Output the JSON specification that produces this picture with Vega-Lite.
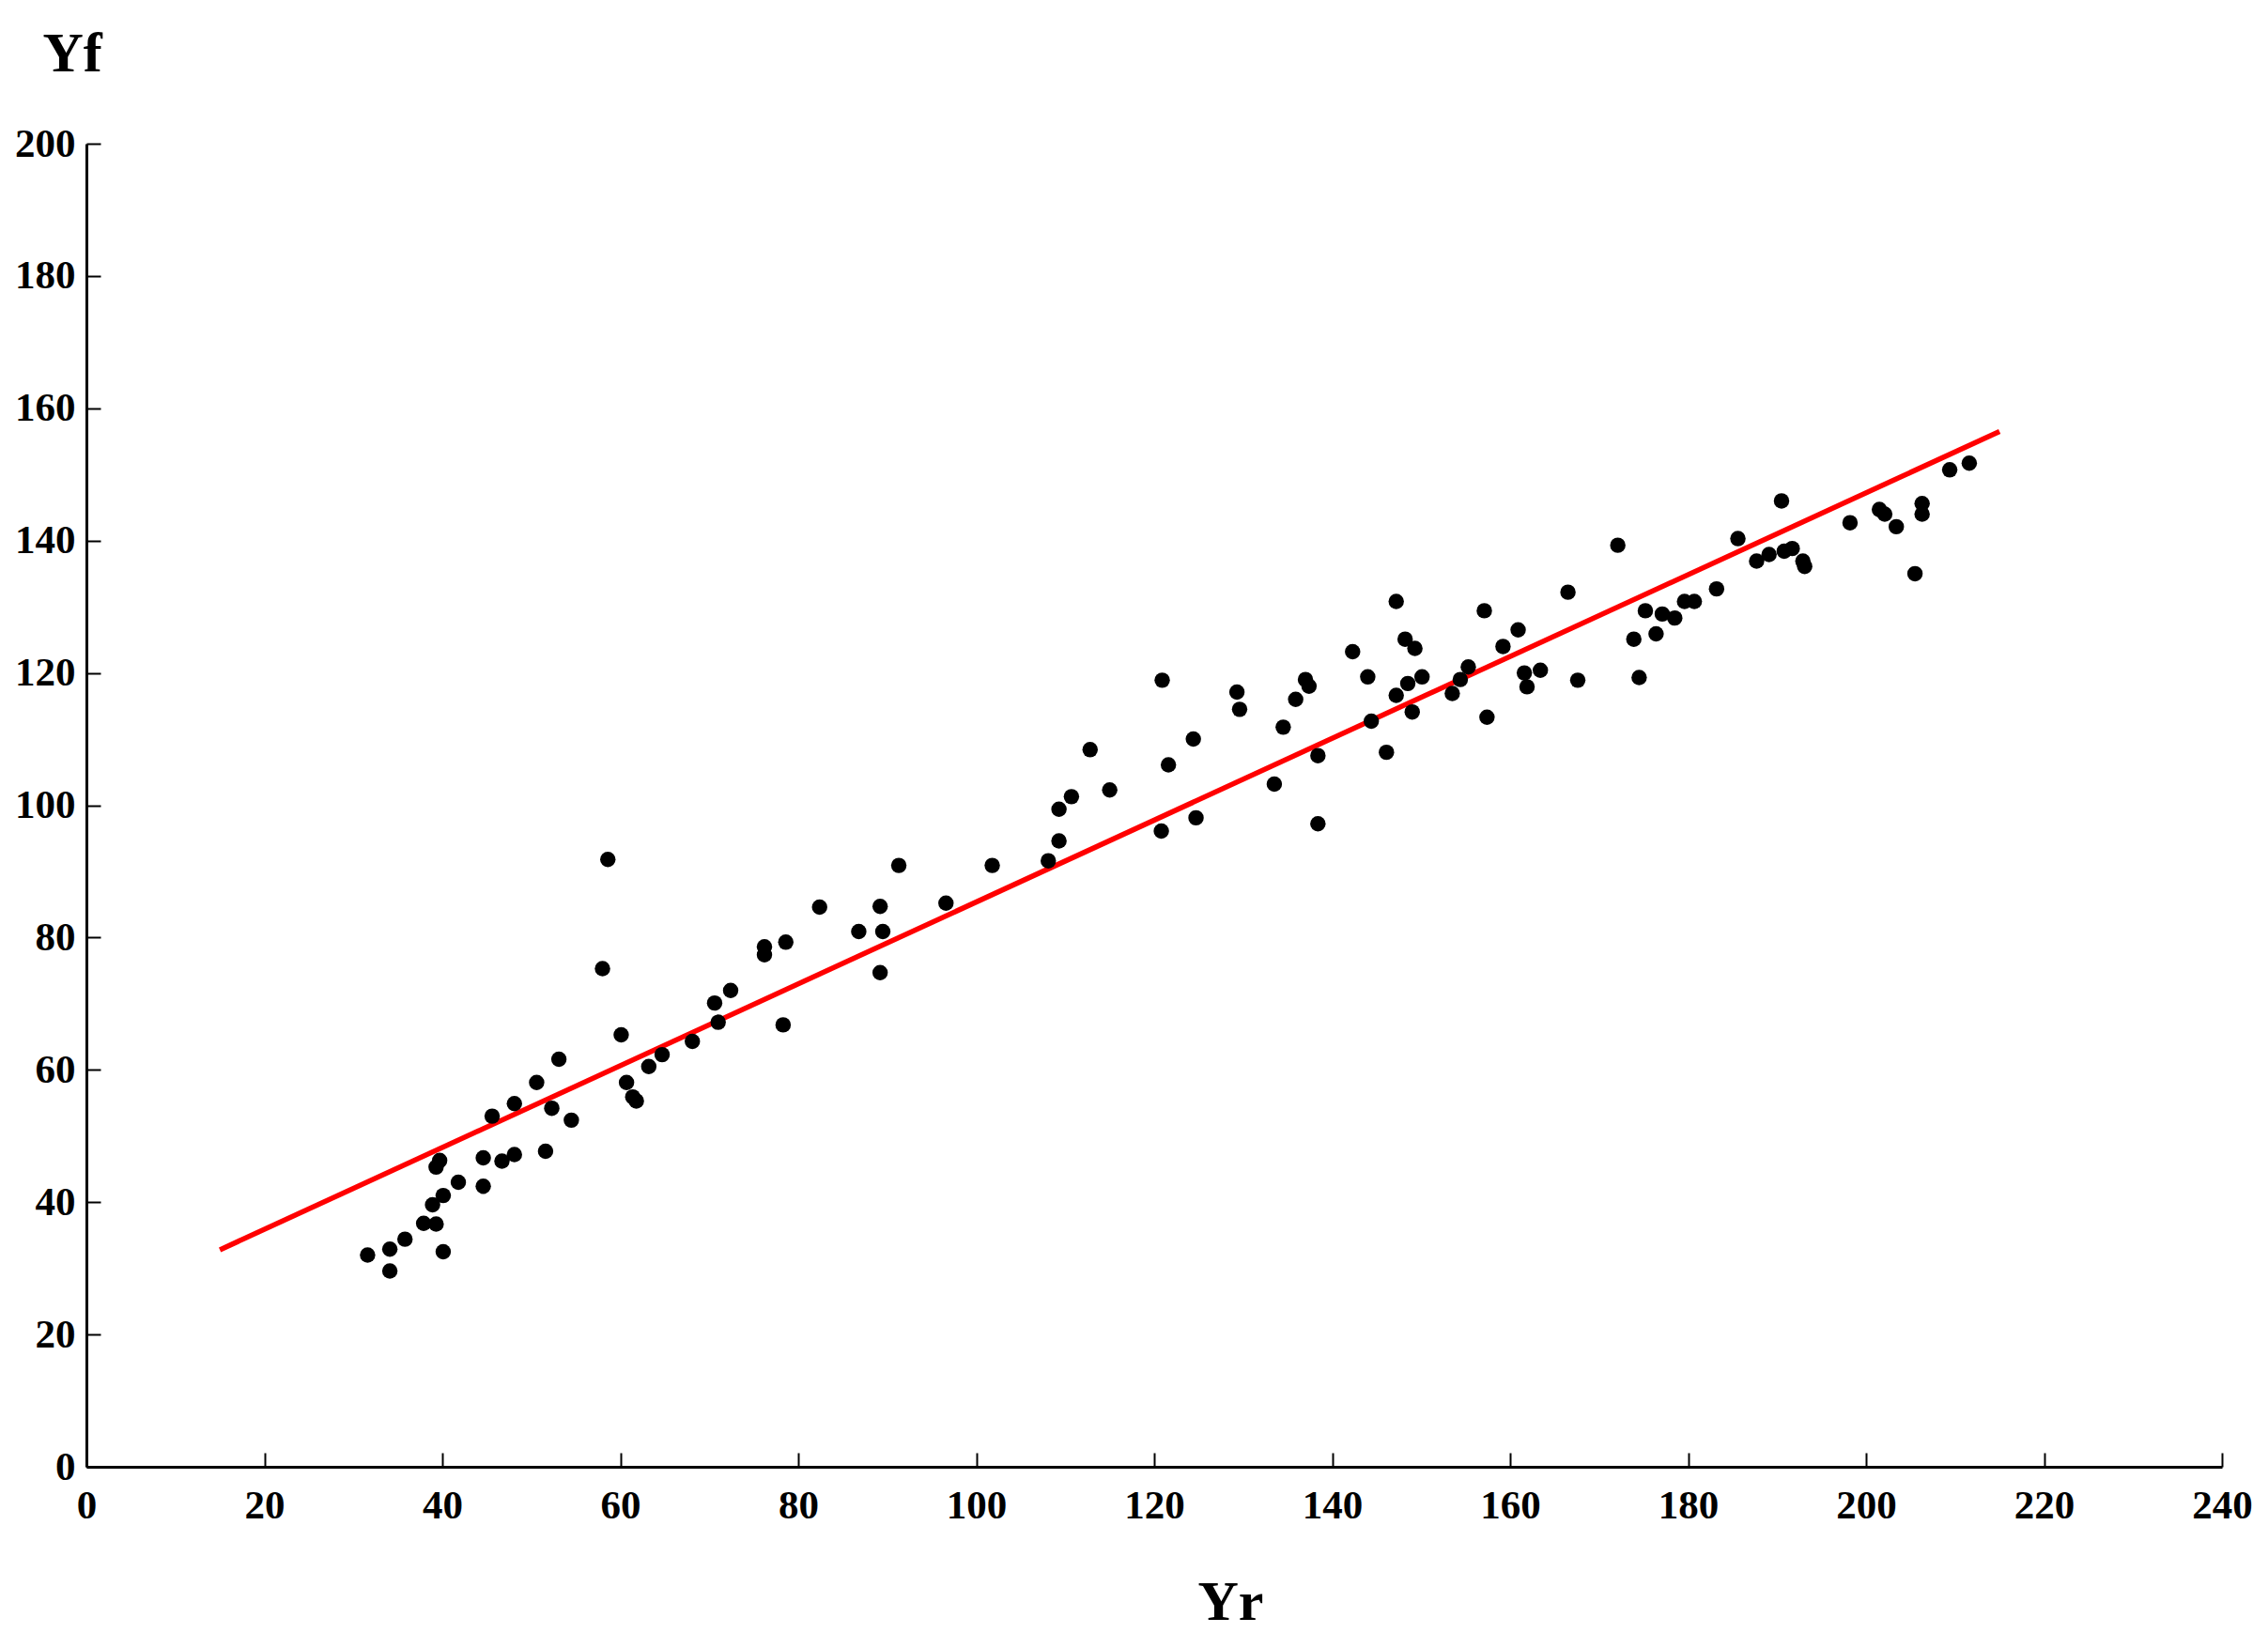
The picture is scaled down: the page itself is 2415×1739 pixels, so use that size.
{
  "$schema": "https://vega.github.io/schema/vega-lite/v6.json",
  "autosize": {"type": "none"},
  "width": 2274,
  "height": 1409,
  "padding": {"left": 92, "top": 153, "right": 49, "bottom": 177},
  "background": "white",
  "config": {"view": {"stroke": null}},
  "datasets": {
    "pts": [
      {"Yr": 31.6, "Yf": 32.0}, {"Yr": 34.1, "Yf": 32.9}, {"Yr": 34.1, "Yf": 29.6}, {"Yr": 35.8, "Yf": 34.4},
      {"Yr": 37.9, "Yf": 36.8}, {"Yr": 39.3, "Yf": 36.7}, {"Yr": 38.9, "Yf": 39.6}, {"Yr": 40.1, "Yf": 41.0},
      {"Yr": 39.3, "Yf": 45.3}, {"Yr": 39.7, "Yf": 46.3}, {"Yr": 40.1, "Yf": 32.5}, {"Yr": 41.8, "Yf": 43.0},
      {"Yr": 44.6, "Yf": 42.4}, {"Yr": 44.6, "Yf": 46.7}, {"Yr": 45.6, "Yf": 53.0}, {"Yr": 46.7, "Yf": 46.2},
      {"Yr": 48.1, "Yf": 47.2}, {"Yr": 48.1, "Yf": 54.9}, {"Yr": 50.6, "Yf": 58.1}, {"Yr": 51.6, "Yf": 47.7},
      {"Yr": 52.3, "Yf": 54.2}, {"Yr": 53.1, "Yf": 61.6}, {"Yr": 54.5, "Yf": 52.4}, {"Yr": 58.0, "Yf": 75.3},
      {"Yr": 58.6, "Yf": 91.8}, {"Yr": 60.1, "Yf": 65.3}, {"Yr": 60.7, "Yf": 58.1}, {"Yr": 61.4, "Yf": 55.9},
      {"Yr": 61.8, "Yf": 55.3}, {"Yr": 63.2, "Yf": 60.5}, {"Yr": 64.7, "Yf": 62.3}, {"Yr": 68.1, "Yf": 64.3},
      {"Yr": 70.6, "Yf": 70.1}, {"Yr": 71.0, "Yf": 67.2}, {"Yr": 72.4, "Yf": 72.0}, {"Yr": 76.2, "Yf": 78.6},
      {"Yr": 76.2, "Yf": 77.4}, {"Yr": 78.3, "Yf": 66.8}, {"Yr": 78.6, "Yf": 79.3}, {"Yr": 82.4, "Yf": 84.6},
      {"Yr": 86.8, "Yf": 80.9}, {"Yr": 89.2, "Yf": 84.7}, {"Yr": 89.5, "Yf": 80.9}, {"Yr": 89.2, "Yf": 74.7},
      {"Yr": 91.3, "Yf": 90.9}, {"Yr": 96.6, "Yf": 85.2}, {"Yr": 101.8, "Yf": 90.9}, {"Yr": 108.1, "Yf": 91.6},
      {"Yr": 109.3, "Yf": 94.6}, {"Yr": 109.3, "Yf": 99.4}, {"Yr": 110.7, "Yf": 101.3}, {"Yr": 112.8, "Yf": 108.4},
      {"Yr": 115.0, "Yf": 102.3}, {"Yr": 120.8, "Yf": 96.1}, {"Yr": 120.9, "Yf": 118.9}, {"Yr": 121.6, "Yf": 106.1},
      {"Yr": 124.4, "Yf": 110.0}, {"Yr": 124.7, "Yf": 98.1}, {"Yr": 129.3, "Yf": 117.1}, {"Yr": 129.6, "Yf": 114.5},
      {"Yr": 133.5, "Yf": 103.2}, {"Yr": 134.5, "Yf": 111.8}, {"Yr": 135.9, "Yf": 116.0}, {"Yr": 137.0, "Yf": 119.0},
      {"Yr": 137.4, "Yf": 118.0}, {"Yr": 138.4, "Yf": 107.5}, {"Yr": 138.4, "Yf": 97.2}, {"Yr": 142.3, "Yf": 123.2},
      {"Yr": 144.0, "Yf": 119.4}, {"Yr": 144.4, "Yf": 112.7}, {"Yr": 146.1, "Yf": 108.0}, {"Yr": 147.2, "Yf": 130.8},
      {"Yr": 148.2, "Yf": 125.1}, {"Yr": 147.2, "Yf": 116.6}, {"Yr": 148.5, "Yf": 118.4}, {"Yr": 149.3, "Yf": 123.7},
      {"Yr": 150.1, "Yf": 119.4}, {"Yr": 149.0, "Yf": 114.1}, {"Yr": 153.5, "Yf": 116.9}, {"Yr": 154.4, "Yf": 119.0},
      {"Yr": 155.3, "Yf": 120.9}, {"Yr": 157.1, "Yf": 129.4}, {"Yr": 157.4, "Yf": 113.3}, {"Yr": 159.2, "Yf": 124.0},
      {"Yr": 160.9, "Yf": 126.5}, {"Yr": 161.6, "Yf": 120.0}, {"Yr": 161.9, "Yf": 117.9}, {"Yr": 163.4, "Yf": 120.4},
      {"Yr": 166.5, "Yf": 132.2}, {"Yr": 167.6, "Yf": 118.9}, {"Yr": 172.1, "Yf": 139.3}, {"Yr": 173.9, "Yf": 125.1},
      {"Yr": 174.5, "Yf": 119.3}, {"Yr": 175.2, "Yf": 129.4}, {"Yr": 176.4, "Yf": 125.9}, {"Yr": 177.1, "Yf": 128.9},
      {"Yr": 178.5, "Yf": 128.3}, {"Yr": 179.6, "Yf": 130.8}, {"Yr": 180.7, "Yf": 130.8}, {"Yr": 183.2, "Yf": 132.7},
      {"Yr": 185.6, "Yf": 140.3}, {"Yr": 187.7, "Yf": 136.9}, {"Yr": 189.1, "Yf": 137.9}, {"Yr": 190.5, "Yf": 146.0},
      {"Yr": 190.8, "Yf": 138.4}, {"Yr": 191.7, "Yf": 138.8}, {"Yr": 192.9, "Yf": 136.9}, {"Yr": 193.1, "Yf": 136.1},
      {"Yr": 198.2, "Yf": 142.7}, {"Yr": 201.5, "Yf": 144.7}, {"Yr": 202.1, "Yf": 144.0}, {"Yr": 203.4, "Yf": 142.1},
      {"Yr": 206.3, "Yf": 145.6}, {"Yr": 206.3, "Yf": 144.0}, {"Yr": 205.5, "Yf": 135.0}, {"Yr": 209.4, "Yf": 150.7},
      {"Yr": 211.6, "Yf": 151.7}
    ],
    "fit": [
      {"Yr": 15, "Yf": 32.8},
      {"Yr": 215, "Yf": 156.5}
    ]
  },
  "layer": [
    {
      "data": {"name": "fit"},
      "mark": {"type": "line", "color": "#ff0000", "strokeWidth": 5.5},
      "encoding": {
        "x": {"field": "Yr", "type": "quantitative"},
        "y": {"field": "Yf", "type": "quantitative"}
      }
    },
    {
      "data": {"name": "pts"},
      "mark": {"type": "circle", "color": "#000000", "opacity": 1, "size": 270},
      "encoding": {
        "x": {
          "field": "Yr", "type": "quantitative",
          "scale": {"domain": [0, 240], "nice": false},
          "axis": {
            "values": [0, 20, 40, 60, 80, 100, 120, 140, 160, 180, 200, 220, 240],
            "grid": false,
            "domainColor": "#000000", "domainWidth": 3,
            "tickColor": "#000000", "tickWidth": 2, "tickSize": -15,
            "labelFont": "Liberation Serif", "labelFontSize": 43, "labelFontWeight": "bold", "labelColor": "#000000",
            "labelPadding": 35, "labelFlush": false, "labelOverlap": false,
            "title": "Yr",
            "titleFont": "Liberation Serif", "titleFontSize": 60, "titleFontWeight": "bold", "titleColor": "#000000",
            "titleAnchor": "start", "titleAlign": "center", "titleBaseline": "alphabetic",
            "titleX": 1218, "titleY": 162
          }
        },
        "y": {
          "field": "Yf", "type": "quantitative",
          "scale": {"domain": [0, 200], "nice": false},
          "axis": {
            "values": [0, 20, 40, 60, 80, 100, 120, 140, 160, 180, 200],
            "grid": false,
            "domainColor": "#000000", "domainWidth": 3,
            "tickColor": "#000000", "tickWidth": 2, "tickSize": -15,
            "labelFont": "Liberation Serif", "labelFontSize": 43, "labelFontWeight": "bold", "labelColor": "#000000",
            "labelPadding": 27, "labelFlush": false, "labelOverlap": false,
            "title": "Yf",
            "titleFont": "Liberation Serif", "titleFontSize": 60, "titleFontWeight": "bold", "titleColor": "#000000",
            "titleAngle": 0, "titleAnchor": "start", "titleAlign": "left", "titleBaseline": "alphabetic",
            "titleX": -47, "titleY": -78
          }
        }
      }
    }
  ]
}
